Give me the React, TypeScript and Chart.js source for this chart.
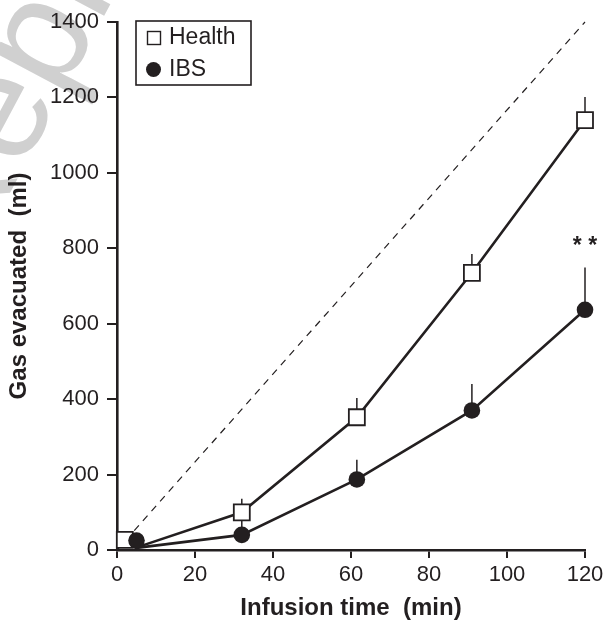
import React, { useEffect, useRef } from 'react';
import { Chart, registerables } from 'chart.js';

Chart.register(...registerables);

// ---- data ----
const healthTime = [2, 32, 61.5, 91, 120];
const healthGas = [27, 100, 352, 735, 1140];
const healthErrUp = [0, 36, 51, 50, 61];

const ibsTime = [5, 32, 61.5, 91, 120];
const ibsGas = [25, 40, 187, 370, 637];
const ibsErrUp = [0, 38, 52, 70, 112];

// both curves start from this point
const lineStartTime = 4.5;
const lineStartGas = 5;

// line of identity (gas infused)
const identityTime = [0, 120];
const identityGas = [0, 1400];

const xTicks = [0, 20, 40, 60, 80, 100, 120];
const yTicks = [0, 200, 400, 600, 800, 1000, 1200, 1400];

const sigLabel = '* *';
const sigTime = 120;
const sigGas = 805;

const xTitle = 'Infusion time  (min)';
const yTitle = 'Gas evacuated  (ml)';
const legendLabels = ['Health', 'IBS'];
const watermarkText = 'Reproduced';

const INK = '#231f20';
const FONT = '"Liberation Sans", Arial, Helvetica, sans-serif';

export default function App() {
  const ref = useRef<HTMLCanvasElement | null>(null);

  useEffect(() => {
    if (!ref.current) return;

    const toPts = (xs: number[], ys: number[]) => xs.map((x, i) => ({ x, y: ys[i] }));
    const healthLine = toPts([lineStartTime, ...healthTime.slice(1)], [lineStartGas, ...healthGas.slice(1)]);
    const ibsLine = toPts([lineStartTime, ...ibsTime.slice(1)], [lineStartGas, ...ibsGas.slice(1)]);

    const watermark = {
      id: 'watermark',
      beforeDraw(chart: any) {
        const ctx = chart.ctx;
        ctx.save();
        ctx.fillStyle = '#d0d0d0';
        ctx.font = `150px ${FONT}`;
        ctx.textBaseline = 'alphabetic';
        ctx.translate(-30, 268);
        ctx.rotate((-62 * Math.PI) / 180);
        ctx.fillText(watermarkText, 0, 0);
        ctx.restore();
      },
    };

    const errorBars = {
      id: 'errorBars',
      beforeDatasetsDraw(chart: any) {
        const ctx = chart.ctx;
        const xs = chart.scales.x;
        const ys = chart.scales.y;
        ctx.save();
        ctx.strokeStyle = INK;
        ctx.lineWidth = 1.5;
        const draw = (t: number[], v: number[], e: number[]) => {
          t.forEach((tt, i) => {
            if (!e[i]) return;
            const px = xs.getPixelForValue(tt);
            ctx.beginPath();
            ctx.moveTo(px, ys.getPixelForValue(v[i]));
            ctx.lineTo(px, ys.getPixelForValue(v[i] + e[i]));
            ctx.stroke();
          });
        };
        draw(healthTime, healthGas, healthErrUp);
        draw(ibsTime, ibsGas, ibsErrUp);
        ctx.restore();
      },
    };

    const overlay = {
      id: 'overlay',
      afterDraw(chart: any) {
        const ctx = chart.ctx;
        const xs = chart.scales.x;
        const ys = chart.scales.y;
        ctx.save();
        // significance stars
        ctx.fillStyle = INK;
        ctx.font = `bold 23px ${FONT}`;
        ctx.textAlign = 'center';
        ctx.textBaseline = 'middle';
        ctx.fillText(sigLabel, xs.getPixelForValue(sigTime), ys.getPixelForValue(sigGas));

        // legend box
        const bx = 136, by = 21, bw = 115, bh = 64;
        ctx.fillStyle = '#ffffff';
        ctx.fillRect(bx, by, bw, bh);
        ctx.strokeStyle = INK;
        ctx.lineWidth = 1.6;
        ctx.strokeRect(bx, by, bw, bh);

        // Health entry
        ctx.lineWidth = 1.4;
        ctx.strokeRect(147.5, 31.5, 13, 13);
        ctx.fillStyle = INK;
        ctx.font = `23px ${FONT}`;
        ctx.textAlign = 'left';
        ctx.textBaseline = 'middle';
        ctx.fillText(legendLabels[0], 169, 38);

        // IBS entry
        ctx.beginPath();
        ctx.arc(153.5, 69.5, 7.5, 0, Math.PI * 2);
        ctx.fill();
        ctx.fillText(legendLabels[1], 169, 70);
        ctx.restore();
      },
    };

    const chart = new Chart(ref.current, {
      type: 'scatter',
      data: {
        datasets: [
          {
            label: 'IBS markers',
            data: toPts(ibsTime, ibsGas),
            showLine: false,
            pointStyle: 'circle',
            pointRadius: 8.3,
            pointBackgroundColor: INK,
            pointBorderColor: INK,
            pointBorderWidth: 0,
            order: 0,
            clip: false,
          },
          {
            label: 'Health markers',
            data: toPts(healthTime, healthGas),
            showLine: false,
            pointStyle: 'rect',
            pointRadius: 11.3,
            pointBackgroundColor: '#ffffff',
            pointBorderColor: INK,
            pointBorderWidth: 1.8,
            order: 1,
            clip: false,
          },
          {
            label: 'IBS line',
            data: ibsLine,
            showLine: true,
            borderColor: INK,
            borderWidth: 2.6,
            pointRadius: 0,
            order: 2,
            clip: false,
          },
          {
            label: 'Health line',
            data: healthLine,
            showLine: true,
            borderColor: INK,
            borderWidth: 2.6,
            pointRadius: 0,
            order: 3,
            clip: false,
          },
          {
            label: 'Identity',
            data: toPts(identityTime, identityGas),
            showLine: true,
            borderColor: INK,
            borderWidth: 1.2,
            borderDash: [7, 6],
            pointRadius: 0,
            order: 4,
            clip: false,
          },
        ],
      },
      options: {
        responsive: false,
        animation: false,
        devicePixelRatio: 1,
        layout: { padding: { left: 0, right: 24, top: 22, bottom: 0 } },
        plugins: { legend: { display: false }, tooltip: { enabled: false } },
        events: [],
        scales: {
          x: {
            type: 'linear',
            min: 0,
            max: 120,
            afterFit: (s: any) => { s.height = 71; },
            afterBuildTicks: (s: any) => { s.ticks = xTicks.map((v) => ({ value: v })); },
            ticks: { color: INK, font: { family: FONT, size: 22 }, padding: 4, autoSkip: false, maxRotation: 0, callback: (v: any) => String(v) },
            grid: { drawOnChartArea: false, drawTicks: true, tickLength: 8, color: INK, lineWidth: 2 },
            border: { display: true, color: INK, width: 2.6 },
            title: { display: true, text: xTitle, color: INK, font: { family: FONT, size: 24, weight: 'bold' }, padding: { top: 0, bottom: -2 } },
          },
          y: {
            type: 'linear',
            min: 0,
            max: 1400,
            afterFit: (s: any) => { s.width = 117; },
            afterBuildTicks: (s: any) => { s.ticks = yTicks.map((v) => ({ value: v })); },
            ticks: { color: INK, font: { family: FONT, size: 22 }, padding: 8, autoSkip: false, callback: (v: any) => String(v) },
            grid: { drawOnChartArea: false, drawTicks: true, tickLength: 10, color: INK, lineWidth: 2 },
            border: { display: true, color: INK, width: 2.6 },
            title: { display: true, text: yTitle, color: INK, font: { family: FONT, size: 24, weight: 'bold' }, padding: { top: 5, bottom: 0 } },
          },
        },
      } as any,
      plugins: [watermark, errorBars, overlay],
    });

    return () => chart.destroy();
  }, []);

  return (
    <div style={{ position: 'fixed', left: 0, top: 0, width: 609, height: 621, background: '#fff' }}>
      <canvas ref={ref} width={609} height={621} style={{ display: 'block' }} />
    </div>
  );
}
